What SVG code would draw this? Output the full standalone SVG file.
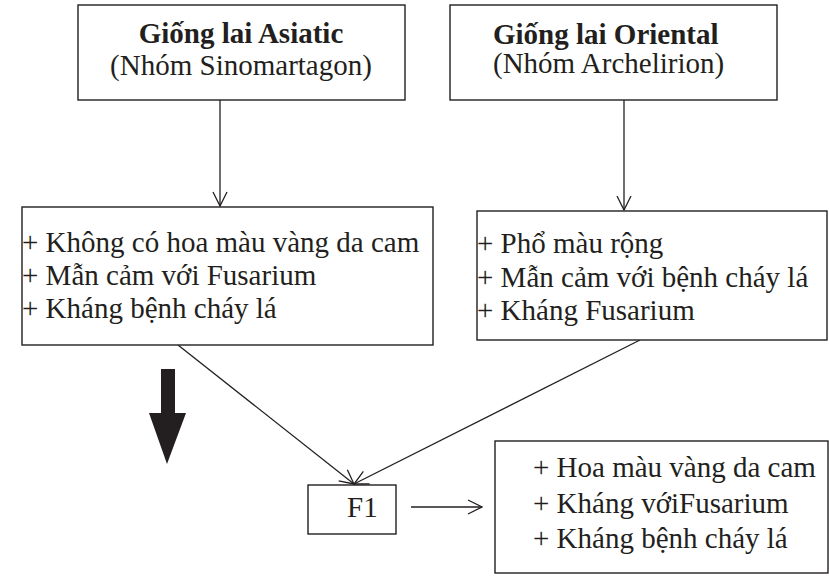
<svg xmlns="http://www.w3.org/2000/svg" width="829" height="579" viewBox="0 0 829 579">
<style>
.box{fill:#fff;stroke:#231f20;stroke-width:1.4}
.t{font-family:"Liberation Serif","Times New Roman",serif;font-size:29px;fill:#231f20}
.b{font-weight:bold}
.ln{stroke:#231f20;stroke-width:1.3;fill:none}
</style>
<defs>
<marker id="open" viewBox="0 0 16 16" refX="15" refY="8" markerWidth="16" markerHeight="16" markerUnits="userSpaceOnUse" orient="auto">
<path d="M1,1 L15,8 L1,15" fill="none" stroke="#231f20" stroke-width="1.3"/>
</marker>
</defs>
<rect width="829" height="579" fill="#fff"/>
<g id="connectors">
<line class="ln" x1="220" y1="100" x2="220" y2="206" marker-end="url(#open)"/>
<line class="ln" x1="624" y1="100" x2="624" y2="210" marker-end="url(#open)"/>
<line class="ln" x1="178" y1="345" x2="354" y2="484" marker-end="url(#open)"/>
<line class="ln" x1="640" y1="340" x2="354" y2="484" marker-end="url(#open)"/>
<line class="ln" x1="411" y1="507" x2="482" y2="507" marker-end="url(#open)"/>
<polygon points="161,369 175,369 175,413 186,413 167,464 149,413 161,413" fill="#231f20"/>
</g>
<g id="asiatic">
<rect class="box" x="78" y="5" width="327" height="95"/>
<text class="t b" x="241" y="43" text-anchor="middle">Giống lai Asiatic</text>
<text class="t" x="241" y="75" text-anchor="middle">(Nhóm Sinomartagon)</text>
</g>
<g id="oriental">
<rect class="box" x="450" y="5" width="327" height="95"/>
<text class="t b" x="493" y="44">Giống lai Oriental</text>
<text class="t" x="493" y="73">(Nhóm Archelirion)</text>
</g>
<g id="asiatic-traits">
<rect class="box" x="22" y="207" width="411" height="138"/>
<text class="t" x="22" y="252">+ Không có hoa màu vàng da cam</text>
<text class="t" x="22" y="285">+ Mẫn cảm với Fusarium</text>
<text class="t" x="22" y="318">+ Kháng bệnh cháy lá</text>
</g>
<g id="oriental-traits">
<rect class="box" x="477" y="211" width="350" height="129"/>
<text class="t" x="477" y="253">+ Phổ màu rộng</text>
<text class="t" x="477" y="287">+ Mẫn cảm với bệnh cháy lá</text>
<text class="t" x="477" y="320">+ Kháng Fusarium</text>
</g>
<g id="f1">
<rect class="box" x="308" y="485" width="88" height="49"/>
<text class="t" x="347" y="517">F1</text>
</g>
<g id="result">
<rect class="box" x="495" y="441" width="333" height="132"/>
<text class="t" x="533" y="477">+ Hoa màu vàng da cam</text>
<text class="t" x="533" y="513">+ Kháng vớiFusarium</text>
<text class="t" x="533" y="548">+ Kháng bệnh cháy lá</text>
</g>
</svg>
